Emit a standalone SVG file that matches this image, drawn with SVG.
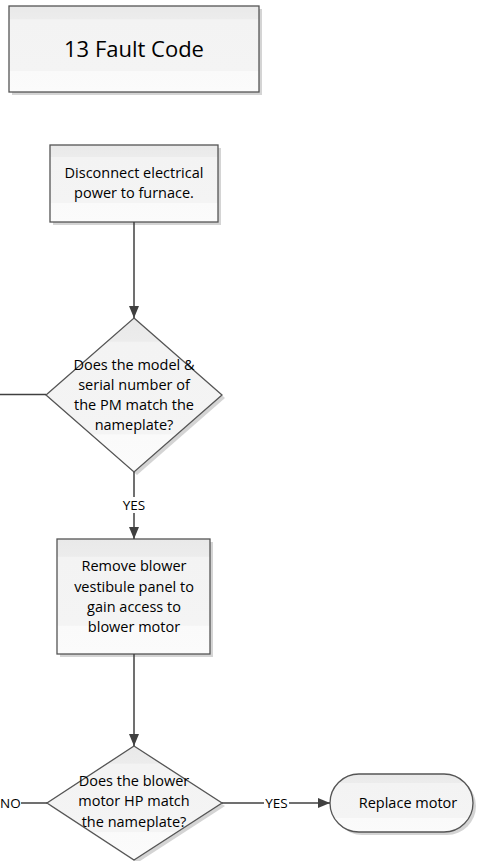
<svg xmlns="http://www.w3.org/2000/svg" width="477" height="861" viewBox="0 0 477 861">
<style>
.shape{fill:url(#g);stroke:#555;stroke-width:1.3}
.shadow{fill:#d4d4d4;stroke:none}
.t{font-family:"Open Sans","Liberation Sans",sans-serif;font-size:14.5px;fill:#000;text-anchor:middle}
.lbl{font-family:"Open Sans","Liberation Sans",sans-serif;font-size:13.5px;fill:#000}
.c{fill:none;stroke:#404040;stroke-width:1.5}
</style>
<defs>
<linearGradient id="g" x1="0" y1="0" x2="0" y2="1">
<stop offset="0" stop-color="#e9e9e9"/>
<stop offset="0.15" stop-color="#ececec"/>
<stop offset="0.16" stop-color="#f3f3f3"/>
<stop offset="0.75" stop-color="#f4f4f4"/>
<stop offset="0.76" stop-color="#fafafa"/>
<stop offset="1" stop-color="#fbfbfb"/>
</linearGradient>
<marker id="a" viewBox="0 0 12 10" refX="12" refY="5" markerWidth="12" markerHeight="10" markerUnits="userSpaceOnUse" orient="auto">
<path d="M0,0 L12,5 L0,10 Z" fill="#404040"/>
</marker>
</defs>
<g id="n1">
<rect class="shadow" x="12" y="9" width="250" height="86"/>
<rect class="shape" x="9" y="6" width="250" height="86"/>
<text class="t" x="134" y="57" style="font-size:22px">13 Fault Code</text>
</g>
<g id="n2">
<rect class="shadow" x="53" y="148" width="168" height="77"/>
<rect class="shape" x="50" y="145" width="168" height="77"/>
<text class="t" x="134" y="178">Disconnect electrical</text>
<text class="t" x="134" y="198">power to furnace.</text>
</g>
<g id="n3">
<polygon class="shadow" points="137,321 225,398 137,475 49,398"/>
<polygon class="shape" points="134,318 222,395 134,472 46,395"/>
<text class="t" x="134" y="370">Does the model &amp;</text>
<text class="t" x="134" y="390">serial number of</text>
<text class="t" x="134" y="410">the PM match the</text>
<text class="t" x="134" y="430">nameplate?</text>
</g>
<g id="n4">
<rect class="shadow" x="60" y="542" width="153" height="115"/>
<rect class="shape" x="57" y="539" width="153" height="115"/>
<text class="t" x="134" y="571">Remove blower</text>
<text class="t" x="134" y="592">vestibule panel to</text>
<text class="t" x="134" y="612">gain access to</text>
<text class="t" x="134" y="632">blower motor</text>
</g>
<g id="n5">
<polygon class="shadow" points="137,749 225,806 137,863 50,806"/>
<polygon class="shape" points="134,746 222,803 134,860 47,803"/>
<text class="t" x="134" y="786">Does the blower</text>
<text class="t" x="134" y="806">motor HP match</text>
<text class="t" x="134" y="827">the nameplate?</text>
</g>
<g id="n6">
<rect class="shadow" x="333" y="777" width="143" height="58" rx="29"/>
<rect class="shape" x="330" y="774" width="143" height="58" rx="29"/>
<text class="t" x="408" y="808">Replace motor</text>
</g>
<g id="connectors">
<line class="c" x1="134" y1="222" x2="134" y2="318" marker-end="url(#a)"/>
<line class="c" x1="0" y1="394.5" x2="46" y2="394.5"/>
<line class="c" x1="134" y1="472" x2="134" y2="497"/>
<text class="lbl" x="134" y="510" text-anchor="middle">YES</text>
<line class="c" x1="134" y1="513" x2="134" y2="539" marker-end="url(#a)"/>
<line class="c" x1="134" y1="654" x2="134" y2="746" marker-end="url(#a)"/>
<text class="lbl" x="0" y="808">NO</text>
<line class="c" x1="21" y1="803" x2="47" y2="803"/>
<line class="c" x1="222" y1="803" x2="264" y2="803"/>
<text class="lbl" x="276.5" y="808" text-anchor="middle">YES</text>
<line class="c" x1="289" y1="803" x2="330" y2="803" marker-end="url(#a)"/>
</g>
</svg>
